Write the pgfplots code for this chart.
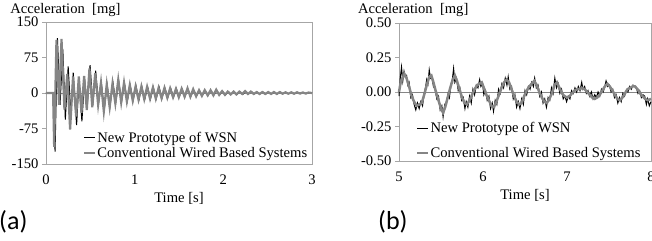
\documentclass[border=0pt]{standalone}
\usepackage{fontspec}
\setmainfont{Liberation Serif}
\newfontfamily\labfont{Carlito}
\usepackage{pgfplots}
\pgfplotsset{compat=1.18}
\definecolor{axisgray}{HTML}{A6A6A6}
\definecolor{sergray}{HTML}{858585}
\newcommand\fs{\fontsize{14.6bp}{17bp}\selectfont}
\pgfplotsset{
  accstyle/.style={
    scale only axis, clip=false,
    axis line style={draw=axisgray},
    tick style={draw=axisgray},
    major tick length=4bp,
    tick align=outside,
    xtick style={draw=none},
    xtick pos=bottom, ytick pos=left,
    /pgf/number format/assume math mode=true,
    ticklabel style={font=\fs},
    xticklabel style={yshift=-3bp},
    xlabel style={font=\fs, yshift=-1bp},
    legend cell align=left,
    legend image code/.code={\draw[##1] (0bp,0bp) -- (11bp,0bp);},
    legend style={draw=none, fill=none, font=\fs, inner sep=0pt,
      nodes={inner xsep=1bp, inner ysep=1bp}},
  }
}
\begin{document}
\begin{tikzpicture}
\useasboundingbox (0,0) rectangle (652bp,241bp);
\begin{axis}[accstyle,
  at={(46bp,77bp)}, anchor=south west,
  width=266bp, height=142bp,
  xmin=0, xmax=3, ymin=-150, ymax=150,
  xtick={0,1,2,3}, ytick={-150,-75,0,75,150},
  xlabel={Time [s]},
  legend style={at={(axis description cs:0.139,0.235)}, anchor=north west, row sep=1.5bp},
]
\addplot[sergray, forget plot] coordinates {(0,0) (3,0)};
\addplot[black, line width=1bp] coordinates {
(0,0) (0.09,0) (0.102,-124) (0.129,116) (0.158,-25) (0.19,92) (0.218,-56) (0.25,56)
(0.28,-45) (0.307,43) (0.345,-68) (0.372,27) (0.405,-60) (0.435,30) (0.465,-28) (0.497,59)
(0.528,-25) (0.56,47) (0.592,-22) (0.625,20) (0.657,-34) (0.69,17) (0.722,-28) (0.755,22)
(0.787,-20) (0.82,25) (0.852,-18) (0.885,20) (0.917,-17) (0.95,16) (0.982,-16) (1.015,15)
(1.048,-15) (1.08,14) (1.113,-14) (1.146,13) (1.178,-13) (1.21,12) (1.243,-12) (1.276,12)
(1.308,-11) (1.34,11) (1.373,-10) (1.406,10) (1.438,-9) (1.47,9) (1.503,-8) (1.536,8)
(1.568,-7) (1.60,8) (1.633,-7) (1.666,6) (1.698,-6) (1.73,5) (1.763,-5) (1.796,5)
(1.828,-5) (1.86,5) (1.893,-4) (1.926,5) (1.958,-4) (1.99,4) (2.023,-4) (2.056,3)
(2.088,-3) (2.12,3) (2.153,-3) (2.186,3) (2.218,-3) (2.25,3) (2.283,-2) (2.316,3)
(2.348,-2) (2.38,2) (2.413,-2) (2.446,2) (2.478,-2) (2.51,2) (2.543,-2) (2.576,2)
(2.608,-2) (2.64,2) (2.673,-1.5) (2.706,1.5) (2.738,-1.5) (2.77,1.5) (2.803,-1.5) (2.836,1.5)
(2.868,-1.5) (2.90,1.5) (2.933,-1.5) (2.966,1) (3.0,0)
};
\addlegendentry{New Prototype of WSN}
\addplot[sergray, line width=2.2bp] coordinates {
(0,0) (0.08,0) (0.092,-114) (0.118,112) (0.147,-25) (0.175,114) (0.208,-35) (0.24,40)
(0.272,-77) (0.305,35) (0.34,-50) (0.37,35) (0.40,-42) (0.43,36) (0.46,-36) (0.49,52)
(0.522,-30) (0.555,42) (0.588,-25) (0.62,22) (0.652,-39) (0.685,18) (0.718,-30) (0.75,20)
(0.782,-22) (0.815,28) (0.848,-20) (0.88,22) (0.912,-18) (0.945,17) (0.978,-16) (1.01,14)
(1.043,-14) (1.076,14) (1.108,-13) (1.14,13) (1.173,-12) (1.206,12) (1.238,-12) (1.27,11)
(1.303,-11) (1.336,11) (1.368,-10) (1.40,10) (1.433,-9) (1.466,9) (1.498,-9) (1.53,9)
(1.563,-8) (1.596,10) (1.628,-8) (1.66,8) (1.693,-7) (1.726,6) (1.758,-6) (1.79,6)
(1.823,-5) (1.856,6) (1.888,-5) (1.92,7) (1.953,-4) (1.986,4) (2.018,-4) (2.05,3)
(2.083,-3) (2.116,3) (2.148,-3) (2.18,3) (2.213,-2) (2.246,4) (2.278,-2) (2.31,3)
(2.343,-2) (2.376,2) (2.408,-2) (2.44,2) (2.473,-2) (2.506,2) (2.538,-2) (2.57,2)
(2.603,-2) (2.636,2) (2.668,-1.5) (2.70,1.5) (2.733,-1.5) (2.766,1.5) (2.798,-1.5) (2.83,1.5)
(2.863,-1) (2.896,1) (2.928,-1) (2.96,1) (3.0,0)
};
\addlegendentry{Conventional Wired Based Systems}
\node[anchor=base west, font=\fs, inner sep=0pt] at (axis description cs:-0.135,1) [yshift=9bp] {Acceleration\ \ [mg]};
\end{axis}
\node[anchor=west, font=\labfont\fontsize{26bp}{28bp}\selectfont, inner sep=0pt] at (-1bp,19bp) {(a)};

\begin{axis}[accstyle,
  at={(399bp,80bp)}, anchor=south west,
  width=252bp, height=138bp,
  xmin=5, xmax=8, ymin=-0.5, ymax=0.5,
  xtick={5,6,7,8}, ytick={-0.5,-0.25,0,0.25,0.5},
  yticklabel style={/pgf/number format/.cd, fixed, fixed zerofill, precision=2},
  xlabel={Time [s]},
  legend style={at={(axis description cs:0.067,0.29)}, anchor=north west, row sep=11bp},
]
\addplot[sergray, forget plot] coordinates {(5,0) (8,0)};
\addplot[black, line width=1bp] coordinates {
(5.000,-0.03) (5.015,0.10) (5.030,0.18) (5.045,0.08) (5.060,0.15) (5.075,0.11) (5.090,0.12) (5.105,0.05)
(5.120,0.07) (5.140,-0.04) (5.160,-0.02) (5.180,-0.09) (5.200,-0.13) (5.220,-0.08) (5.240,-0.12) (5.260,-0.07)
(5.280,-0.10) (5.300,-0.01) (5.315,0.03) (5.330,0.09) (5.345,0.06) (5.360,0.16) (5.375,0.10) (5.390,0.11)
(5.410,0.04) (5.430,0.02) (5.450,-0.05) (5.470,-0.03) (5.490,-0.13) (5.510,-0.10) (5.525,-0.18) (5.545,-0.09)
(5.565,-0.07) (5.585,-0.01) (5.600,-0.04) (5.620,0.06) (5.635,0.09) (5.650,0.17) (5.665,0.07) (5.685,0.10)
(5.705,0.01) (5.725,0.03) (5.745,-0.06) (5.765,-0.04) (5.785,-0.12) (5.800,-0.07) (5.820,-0.11) (5.840,-0.03)
(5.860,-0.08) (5.880,0.02) (5.900,-0.02) (5.920,0.05) (5.940,0.03) (5.960,0.09) (5.975,0.04) (5.995,0.06)
(6.010,-0.02) (6.030,0.01) (6.050,-0.06) (6.070,-0.03) (6.090,-0.12) (6.110,-0.08) (6.125,-0.14) (6.145,-0.06)
(6.165,-0.09) (6.185,0.02) (6.205,-0.01) (6.225,0.06) (6.245,0.03) (6.265,0.10) (6.285,0.05) (6.300,0.11)
(6.320,0.02) (6.340,0.04) (6.360,-0.05) (6.380,-0.02) (6.400,-0.11) (6.420,-0.07) (6.440,-0.12) (6.460,-0.05)
(6.480,-0.09) (6.500,0.01) (6.520,-0.02) (6.540,0.04) (6.560,0.02) (6.580,0.07) (6.600,0.04) (6.615,0.10)
(6.635,0.03) (6.655,0.05) (6.675,-0.03) (6.695,0.00) (6.715,-0.08) (6.735,-0.05) (6.755,-0.11) (6.775,-0.04)
(6.795,-0.06) (6.815,0.03) (6.835,-0.01) (6.855,0.10) (6.875,0.03) (6.895,0.06) (6.915,-0.01) (6.935,0.02)
(6.955,-0.05) (6.975,-0.03) (6.995,-0.07) (7.015,-0.03) (7.035,-0.05) (7.055,0.01) (7.075,-0.01) (7.095,0.03)
(7.115,0.00) (7.135,0.04) (7.155,0.01) (7.175,0.07) (7.190,0.02) (7.210,0.04) (7.230,-0.01) (7.250,0.01)
(7.270,-0.03) (7.290,0.00) (7.310,-0.05) (7.330,-0.02) (7.350,-0.04) (7.370,0.00) (7.390,-0.03) (7.410,0.02)
(7.430,0.00) (7.450,0.04) (7.465,0.08) (7.485,0.04) (7.505,0.05) (7.525,0.00) (7.545,0.02) (7.565,-0.04)
(7.585,-0.02) (7.605,-0.08) (7.625,-0.04) (7.645,-0.07) (7.665,-0.01) (7.685,-0.03) (7.705,0.01) (7.725,0.00)
(7.745,0.04) (7.765,0.02) (7.785,0.05) (7.805,0.04) (7.825,0.03) (7.845,-0.01) (7.865,0.01) (7.885,-0.04)
(7.905,-0.02) (7.925,-0.03) (7.945,-0.09) (7.960,-0.05) (7.980,-0.10) (8.000,-0.07)
};
\addlegendentry{New Prototype of WSN}
\addplot[sergray, line width=2.5bp] coordinates {
(5.000,0.00) (5.020,0.07) (5.040,0.10) (5.065,0.13) (5.090,0.10) (5.120,0.04) (5.150,-0.03) (5.180,-0.07)
(5.210,-0.10) (5.240,-0.09) (5.270,-0.08) (5.300,-0.02) (5.330,0.05) (5.360,0.11) (5.385,0.12) (5.410,0.07)
(5.440,0.00) (5.470,-0.06) (5.500,-0.12) (5.525,-0.15) (5.550,-0.11) (5.580,-0.04) (5.610,0.03) (5.640,0.09)
(5.665,0.12) (5.690,0.08) (5.720,0.02) (5.750,-0.04) (5.780,-0.08) (5.810,-0.09) (5.840,-0.06) (5.870,-0.02)
(5.900,0.02) (5.930,0.05) (5.960,0.06) (5.985,0.07) (6.010,0.03) (6.040,-0.02) (6.070,-0.06) (6.100,-0.10)
(6.130,-0.11) (6.160,-0.07) (6.190,-0.02) (6.220,0.03) (6.250,0.07) (6.280,0.09) (6.310,0.07) (6.340,0.02)
(6.370,-0.03) (6.400,-0.07) (6.430,-0.09) (6.460,-0.08) (6.490,-0.03) (6.520,0.01) (6.550,0.04) (6.580,0.06)
(6.610,0.08) (6.640,0.05) (6.670,0.00) (6.700,-0.04) (6.730,-0.07) (6.760,-0.08) (6.790,-0.05) (6.820,-0.01)
(6.850,0.05) (6.880,0.07) (6.910,0.03) (6.940,-0.01) (6.970,-0.03) (7.000,-0.04) (7.030,-0.03) (7.060,-0.01)
(7.090,0.01) (7.120,0.02) (7.150,0.02) (7.180,0.03) (7.210,0.02) (7.240,0.00) (7.270,-0.02) (7.300,-0.04)
(7.330,-0.05) (7.360,-0.04) (7.390,-0.02) (7.420,0.01) (7.450,0.04) (7.480,0.06) (7.510,0.04) (7.540,0.01)
(7.570,-0.02) (7.600,-0.05) (7.630,-0.06) (7.660,-0.04) (7.690,-0.01) (7.720,0.02) (7.750,0.03) (7.780,0.04)
(7.810,0.04) (7.840,0.02) (7.870,-0.01) (7.900,-0.03) (7.930,-0.05) (7.960,-0.06) (8.000,-0.05)
};
\addlegendentry{Conventional Wired Based Systems}
\node[anchor=base west, font=\fs, inner sep=0pt] at (axis description cs:-0.163,1) [yshift=9bp] {Acceleration\ \ [mg]};
\end{axis}
\node[anchor=west, font=\labfont\fontsize{26bp}{28bp}\selectfont, inner sep=0pt] at (378bp,19bp) {(b)};
\end{tikzpicture}
\end{document}
